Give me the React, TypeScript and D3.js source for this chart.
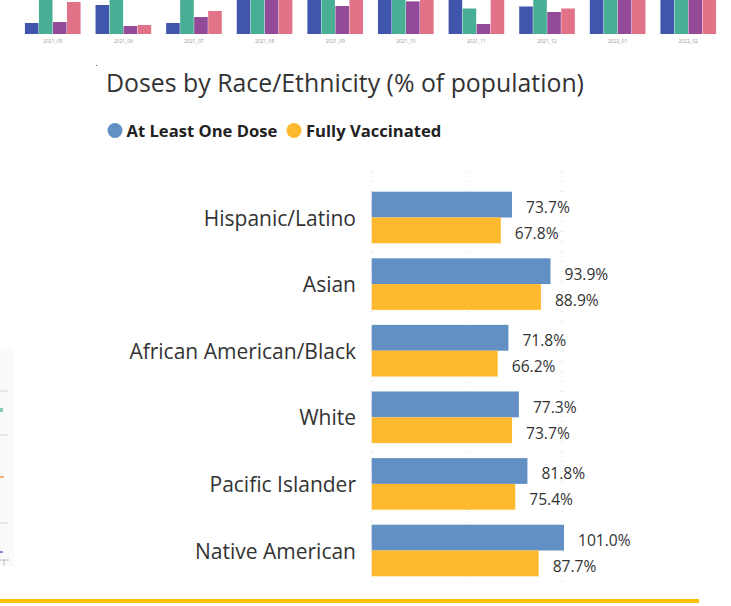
import React from "react";
import * as d3 from "d3";

const categories = ["Hispanic/Latino", "Asian", "African American/Black", "White", "Pacific Islander", "Native American"];
const atLeastOne = [73.7, 93.9, 71.8, 77.3, 81.8, 101.0];
const fullyVax = [67.8, 88.9, 66.2, 73.7, 75.4, 87.7];
const seriesNames = ["At Least One Dose", "Fully Vaccinated"];
const gridTicks = [0, 50, 100];

// Cropped strip of another chart at top
const months = ["2021_05", "2021_06", "2021_07", "2021_08", "2021_09", "2021_10", "2021_11", "2021_12", "2022_01", "2022_02"];
const stripA = [11, 29, 11, 40, 40, 40, 40, 27.5, 40, 40];
const stripB = [40, 40, 40, 40, 40, 40, 25.5, 40, 40, 40];
const stripC = [12, 8, 17, 40, 28, 32.6, 10, 22, 40, 40];
const stripD = [32, 9, 23, 40, 40, 40, 40, 25.5, 40, 40];

const W = 731;
const H = 606;
const FONT = "'Open Sans', 'DejaVu Sans', sans-serif";
const BLUE = "#6390C4";
const ORANGE = "#FFB92E";
const stripColors = ["#2F48A6", "#3AA98B", "#8A3B91", "#E0677D"];

export default function App() {
  const x = d3.scaleLinear().domain([0, 101]).range([371.7, 564]);
  const y = d3.scaleBand().domain(categories).range([184.2, 583.8]).paddingInner(0.225).paddingOuter(0.1125);
  const bw = y.bandwidth();

  const sx = d3.scaleBand().domain(months).range([32 - 7.5, 724 - 7.5]).paddingInner(0.2).paddingOuter(0);
  const sy = d3.scaleLinear().domain([0, 34]).range([34, 0]);
  const sub = d3.scaleBand().domain(["a", "b", "c", "d"]).range([0, sx.bandwidth()]).padding(0.03);
  const stripSeries = [stripA, stripB, stripC, stripD];

  return (
    <svg width={W} height={H} style={{ position: "absolute", left: 0, top: 0, background: "#fff" }}>
      <defs>
        <clipPath id="stripClip">
          <rect x={0} y={0} width={W} height={40} />
        </clipPath>
      </defs>
      {/* top cropped strip */}
      <g clipPath="url(#stripClip)" opacity={0.92}>
        {months.map((m, i) => (
          <g key={m} transform={`translate(${sx(m)},0)`}>
            {stripSeries.map((s, j) => {
              const k = ["a", "b", "c", "d"][j];
              return (
                <rect key={k} x={sub(k)} y={sy(s[i])} width={sub.bandwidth()} height={34 - sy(s[i])} fill={stripColors[j]} />
              );
            })}
          </g>
        ))}
      </g>
      {months.map((m) => (
        <text key={m} x={(sx(m) as number) + sx.bandwidth() / 2} y={42.5} fontSize={5} fill="#999" textAnchor="middle" fontFamily={FONT}>
          {m}
        </text>
      ))}
      {/* left fragments */}
      <g opacity={0.6}>
        <rect x={0} y={348} width={14} height={218} fill="#f7f7f7" />
        <line x1={0} x2={8} y1={391} y2={391} stroke="#bbb" strokeWidth={1} />
        <line x1={0} x2={8} y1={435} y2={435} stroke="#bbb" strokeWidth={1} />
        <line x1={0} x2={8} y1={523} y2={523} stroke="#bbb" strokeWidth={1} />
        <rect x={0} y={408} width={3} height={4} fill="#3AA98B" />
        <rect x={0} y={476} width={4} height={2} fill="#F07B2A" />
        <rect x={0} y={551} width={3} height={2} fill="#5040A0" />
        <line x1={0} x2={9} y1={560} y2={560} stroke="#777" strokeWidth={0.8} />
        <line x1={4} x2={4} y1={560} y2={566} stroke="#777" strokeWidth={0.8} />
      </g>

      {/* title */}
      <rect x={96} y={65} width={1} height={1} fill="#555" />
      <text x={106} y={92} fontSize={24.85} fill="#333" fontFamily={FONT}>
        Doses by Race/Ethnicity (% of population)
      </text>

      {/* legend */}
      <circle cx={115} cy={130.5} r={7.5} fill={BLUE} />
      <text x={126.5} y={136.5} fontSize={16.6} fontWeight="bold" fill="#222" fontFamily={FONT}>
        {seriesNames[0]}
      </text>
      <circle cx={294} cy={130.5} r={7.5} fill={ORANGE} />
      <text x={306} y={136.5} fontSize={16.6} fontWeight="bold" fill="#222" fontFamily={FONT}>
        {seriesNames[1]}
      </text>

      {/* gridlines */}
      {gridTicks.map((t) => (
        <line key={t} x1={x(t)} x2={x(t)} y1={171} y2={586} stroke="#ccc" strokeWidth={1} strokeDasharray="1,9" />
      ))}

      {/* bars */}
      {categories.map((c, i) => {
        const y0 = y(c) as number;
        const h = bw / 2;
        return (
          <g key={c}>
            <text x={356} y={y0 + h + 8} fontSize={21} fill="#333" textAnchor="end" fontFamily={FONT}>
              {c}
            </text>
            <rect x={x(0)} y={y0} width={x(atLeastOne[i]) - x(0)} height={h} fill={BLUE} />
            <rect x={x(0)} y={y0 + h} width={x(fullyVax[i]) - x(0)} height={h} fill={ORANGE} />
            <text x={x(atLeastOne[i]) + 14} y={y0 + h / 2 + 8.5} fontSize={15.6} fill="#333" fontFamily={FONT}>
              {atLeastOne[i].toFixed(1)}%
            </text>
            <text x={x(fullyVax[i]) + 14} y={y0 + h + h / 2 + 8.5} fontSize={15.6} fill="#333" fontFamily={FONT}>
              {fullyVax[i].toFixed(1)}%
            </text>
          </g>
        );
      })}

      {/* bottom yellow stripe */}
      <rect x={0} y={599} width={699} height={4} fill="#FFC000" />
    </svg>
  );
}
